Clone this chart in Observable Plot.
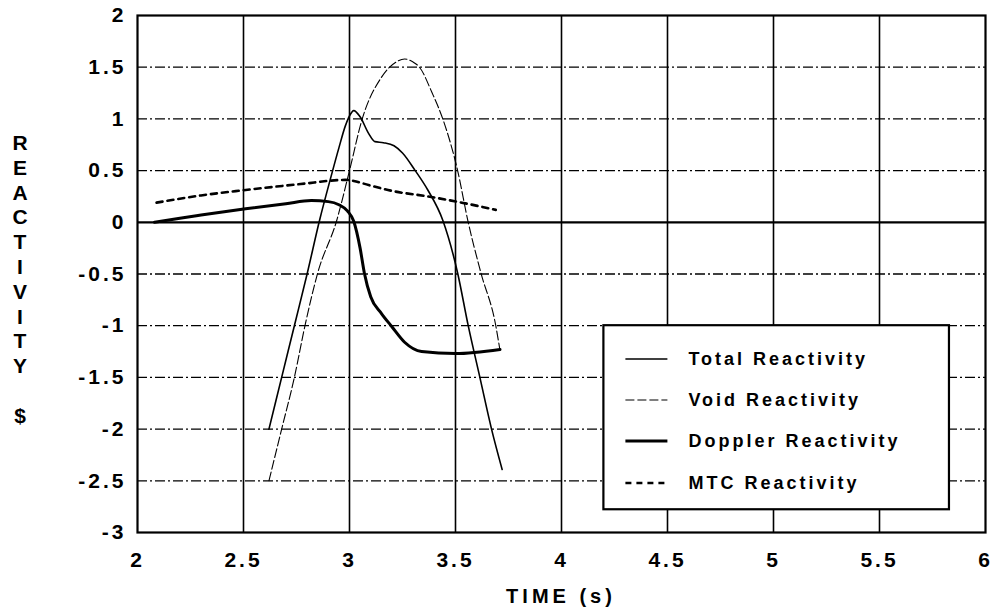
<!DOCTYPE html>
<html>
<head>
<meta charset="utf-8">
<script src="https://cdn.jsdelivr.net/npm/d3@7"></script>
<script src="https://cdn.jsdelivr.net/npm/@observablehq/plot@0.6"></script>
<style>
  body { margin: 0; background: #fff; }
  svg { font-family: "Liberation Sans", Arial, sans-serif; }
  g[aria-label="x-axis tick label"] text, g[aria-label="y-axis tick label"] text { letter-spacing: 3px; }
</style>
</head>
<body>
<div id="chart"></div>
<script>
// ---- data ----
const xTicks = [2, 2.5, 3, 3.5, 4, 4.5, 5, 5.5, 6];
const xTickLabels = ["2", "2.5", "3", "3.5", "4", "4.5", "5", "5.5", "6"];
const yTicks = [2, 1.5, 1, 0.5, 0, -0.5, -1, -1.5, -2, -2.5, -3];
const yTickLabels = ["2", "1.5", "1", "0.5", "0", "-0.5", "-1", "-1.5", "-2", "-2.5", "-3"];

const seriesNames = ["Total Reactivity", "Void Reactivity", "Doppler Reactivity", "MTC Reactivity"];

const timeTotal = [2.62, 2.68, 2.74, 2.80, 2.86, 2.91, 2.95, 2.98, 3.0, 3.02, 3.05, 3.09, 3.12, 3.16, 3.21, 3.25, 3.31, 3.37, 3.44, 3.51, 3.56, 3.615, 3.67, 3.72];
const total     = [-2.0, -1.5, -1.0, -0.5, 0.03, 0.42, 0.72, 0.93, 1.03, 1.08, 1.02, 0.86, 0.78, 0.77, 0.74, 0.67, 0.5, 0.31, 0.02, -0.49, -1.0, -1.5, -2.0, -2.39];

const timeVoid = [2.62, 2.68, 2.74, 2.79, 2.85, 2.94, 3.0, 3.06, 3.15, 3.22, 3.26, 3.30, 3.33, 3.39, 3.44, 3.51, 3.56, 3.62, 3.69, 3.71];
const voidR    = [-2.5, -2.0, -1.5, -1.0, -0.49, 0.02, 0.5, 1.0, 1.4, 1.55, 1.58, 1.55, 1.5, 1.25, 1.0, 0.5, 0.0, -0.49, -1.0, -1.24];

const timeDoppler = [2.08, 2.2, 2.3, 2.51, 2.7, 2.82, 2.9, 2.95, 2.99, 3.02, 3.05, 3.07, 3.1, 3.15, 3.2, 3.26, 3.34, 3.5, 3.71];
const doppler     = [0.0, 0.04, 0.07, 0.13, 0.18, 0.21, 0.2, 0.17, 0.11, 0.01, -0.25, -0.49, -0.72, -0.88, -1.01, -1.16, -1.25, -1.27, -1.23];

const timeMTC = [2.09, 2.3, 2.5, 2.77, 2.98, 3.02, 3.09, 3.21, 3.37, 3.53, 3.69];
const mtc     = [0.19, 0.26, 0.31, 0.37, 0.41, 0.4, 0.36, 0.3, 0.25, 0.19, 0.12];

// ---- build tables ----
const toRows = (ts, vs) => ts.map((t, i) => ({t, v: vs[i]}));
const rowsTotal = toRows(timeTotal, total);
const rowsVoid = toRows(timeVoid, voidR);
const rowsDoppler = toRows(timeDoppler, doppler);
const rowsMTC = toRows(timeMTC, mtc);

const styles = {
  "Total Reactivity":   {strokeWidth: 1.6, dash: null},
  "Void Reactivity":    {strokeWidth: 1.1, dash: "9,3"},
  "Doppler Reactivity": {strokeWidth: 3, dash: null},
  "MTC Reactivity":     {strokeWidth: 2.6, dash: "6,5"}
};

const W = 1000, H = 612;
const mL = 137, mR = 15, mT = 15, mB = 80;

const plot = Plot.plot({
  width: W, height: H,
  marginLeft: mL, marginRight: mR, marginTop: mT, marginBottom: mB,
  x: {domain: [2, 6]},
  y: {domain: [-3, 2]},
  marks: [
    Plot.ruleX(xTicks.slice(1, -1), {stroke: "black", strokeWidth: 1.6}),
    Plot.ruleY(yTicks.filter(d => d !== 0 && d !== 2 && d !== -3), {stroke: "black", strokeWidth: 1.3, strokeDasharray: "10,3,2,3"}),
    Plot.ruleY([0], {stroke: "black", strokeWidth: 2.2}),
    Plot.line(rowsVoid, {x: "t", y: "v", stroke: "black", strokeWidth: styles["Void Reactivity"].strokeWidth, strokeDasharray: styles["Void Reactivity"].dash, curve: "monotone-x"}),
    Plot.line(rowsTotal, {x: "t", y: "v", stroke: "black", strokeWidth: styles["Total Reactivity"].strokeWidth, curve: "monotone-x"}),
    Plot.line(rowsDoppler, {x: "t", y: "v", stroke: "black", strokeWidth: styles["Doppler Reactivity"].strokeWidth, curve: "monotone-x"}),
    Plot.line(rowsMTC, {x: "t", y: "v", stroke: "black", strokeWidth: styles["MTC Reactivity"].strokeWidth, strokeDasharray: styles["MTC Reactivity"].dash, curve: "monotone-x"}),
    Plot.frame({stroke: "black", strokeWidth: 2.2}),
    Plot.axisX({ticks: xTicks, tickFormat: d => xTickLabels[xTicks.indexOf(d)], tickSize: 0, tickPadding: 20, fontSize: 21, fontWeight: "bold", label: null}),
    Plot.axisY({ticks: yTicks, tickFormat: d => yTickLabels[yTicks.indexOf(d)], tickSize: 0, tickPadding: 11, fontSize: 21, fontWeight: "bold", label: null})
  ]
});

const svg = d3.select(plot);
const xs = plot.scale("x"), ys = plot.scale("y");

// x-axis title
svg.append("text")
  .attr("x", (mL + W - mR) / 2).attr("y", 603)
  .attr("text-anchor", "middle")
  .style("font-size", "20px").style("font-weight", "bold").style("letter-spacing", "4px")
  .text("TIME (s)");

// y-axis title: stacked letters
const yLetters = "REACTIVITY".split("");
const yl = svg.append("g").style("font-size", "21px").style("font-weight", "bold").attr("text-anchor", "middle");
yLetters.forEach((c, i) => {
  yl.append("text").attr("x", 20).attr("y", 150 + i * 24.8).text(c);
});
yl.append("text").attr("x", 20).attr("y", 423).text("$");

// legend
const lx0 = xs.apply(4.2), lx1 = xs.apply(5.83), ly0 = ys.apply(-1), ly1 = ys.apply(-2.78);
const lg = svg.append("g").attr("text-anchor", "start");
lg.append("rect").attr("x", lx0).attr("y", ly0).attr("width", lx1 - lx0).attr("height", ly1 - ly0)
  .attr("fill", "white").attr("stroke", "black").attr("stroke-width", 2.2);
const rowY = [359, 400, 441, 483];
seriesNames.forEach((name, i) => {
  const s = styles[name];
  lg.append("line").attr("x1", lx0 + 22).attr("x2", lx0 + 64).attr("y1", rowY[i]).attr("y2", rowY[i])
    .attr("stroke", "black").attr("stroke-width", s.strokeWidth).attr("stroke-dasharray", s.dash);
  lg.append("text").attr("x", lx0 + 85).attr("y", rowY[i]).attr("dy", "0.35em")
    .attr("text-anchor", "start")
    .style("font-size", "18px").style("font-weight", "bold").style("letter-spacing", "3px")
    .text(name);
});

document.getElementById("chart").append(plot);
</script>
</body>
</html>
